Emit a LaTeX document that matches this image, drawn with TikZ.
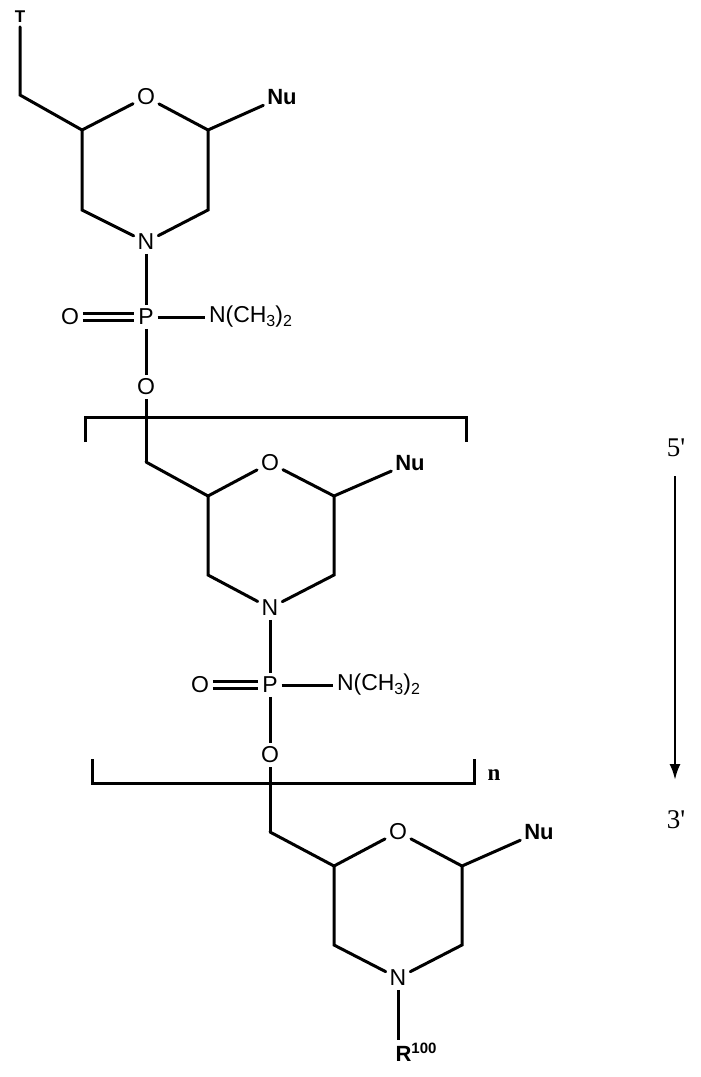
\documentclass[tikz,border=0pt]{standalone}
\usepackage{fontspec}
\usetikzlibrary{arrows.meta}
\setmainfont{Liberation Sans}
\newfontfamily\seriff{Liberation Serif}
\newcommand{\sbs}[1]{\raisebox{-4pt}{\fontsize{16}{16}\selectfont #1}}
\begin{document}
\begin{tikzpicture}[x=1pt,y=-1pt,line width=3pt,
  atom/.style={inner sep=2.5pt,font=\fontsize{23}{26}\selectfont},
  batom/.style={inner sep=2.5pt,font=\fontsize{22}{26}\selectfont\bfseries},
  bond/.style={line cap=round}]
\useasboundingbox (0,0) rectangle (701,1077);
% unit 1
\node[batom,font=\fontsize{17}{18}\selectfont\bfseries] (T) at (20,17) {T};
\coordinate (a0) at (20,95);
\coordinate (a1) at (82,130);
\node[atom] (O1) at (146,97) {O};
\coordinate (a2) at (208,130);
\node[batom] (Nu1) at (282,97) {Nu};
\coordinate (a3) at (82,210);
\node[atom] (N1) at (146,242) {N};
\coordinate (a4) at (208,210);
\node[atom] (P1) at (146,317) {P};
\node[atom] (Od1) at (70,317) {O};
\node[atom,anchor=west] (Nm1) at (205,317) {N(CH\sbs{3})\sbs{2}};
\node[atom] (Ol1) at (146,387) {O};
\draw[bond] (T) -- (a0) -- (a1) -- (O1) -- (a2) -- (Nu1);
\draw[bond] (a1) -- (a3) -- (N1) -- (a4) -- (a2);
\draw (N1) -- (P1) -- (Ol1);
\draw (P1.east) -- (Nm1.west);
\draw ([yshift=-3.5]Od1.east) -- ([yshift=-3.5]P1.west);
\draw ([yshift=3.5]Od1.east) -- ([yshift=3.5]P1.west);
% bracket 1
\draw (85,442) -- (85,417) -- (466,417) -- (466,442);
% unit 2
\coordinate (b0) at (146,462);
\coordinate (b1) at (208,496);
\node[atom] (O2) at (270,463) {O};
\coordinate (b2) at (334,496);
\node[batom] (Nu2) at (410,463) {Nu};
\coordinate (b3) at (208,575);
\node[atom] (N2) at (270,608) {N};
\coordinate (b4) at (334,575);
\node[atom] (P2) at (270,685) {P};
\node[atom] (Od2) at (200,685) {O};
\node[atom,anchor=west] (Nm2) at (333,685) {N(CH\sbs{3})\sbs{2}};
\node[atom] (Ol2) at (270,755) {O};
\draw (Ol1) -- (b0);
\draw[bond] (b0) -- (b1) -- (O2) -- (b2) -- (Nu2);
\draw[bond] (b1) -- (b3) -- (N2) -- (b4) -- (b2);
\draw (N2) -- (P2) -- (Ol2);
\draw (P2.east) -- (Nm2.west);
\draw ([yshift=-3.5]Od2.east) -- ([yshift=-3.5]P2.west);
\draw ([yshift=3.5]Od2.east) -- ([yshift=3.5]P2.west);
% bracket 2
\draw (92,759) -- (92,783) -- (474,783) -- (474,759);
\node[font=\seriff\fontsize{23}{26}\selectfont\bfseries] (n) at (494,775) {n};
% unit 3
\coordinate (c0) at (270,832);
\coordinate (c1) at (334,866);
\node[atom] (O3) at (398,832) {O};
\coordinate (c2) at (462,866);
\node[batom] (Nu3) at (539,832) {Nu};
\coordinate (c3) at (334,945);
\node[atom] (N3) at (398,978) {N};
\coordinate (c4) at (462,945);
\node[batom,inner sep=0pt] (R) at (416,1052) {R\raisebox{8pt}{\fontsize{15}{15}\selectfont\bfseries 100}};
\draw (N3) -- (398,1040);
\draw (Ol2) -- (c0);
\draw[bond] (c0) -- (c1) -- (O3) -- (c2) -- (Nu3);
\draw[bond] (c1) -- (c3) -- (N3) -- (c4) -- (c2);
% arrow
\node[font=\seriff\fontsize{27}{30}\selectfont] (s5) at (676,448) {5'};
\node[font=\seriff\fontsize{27}{30}\selectfont] (s3) at (676,820) {3'};
\draw[line width=2.5pt,-{Latex[length=16pt,width=11pt]}] (675,476) -- (675,780);
\end{tikzpicture}
\end{document}
